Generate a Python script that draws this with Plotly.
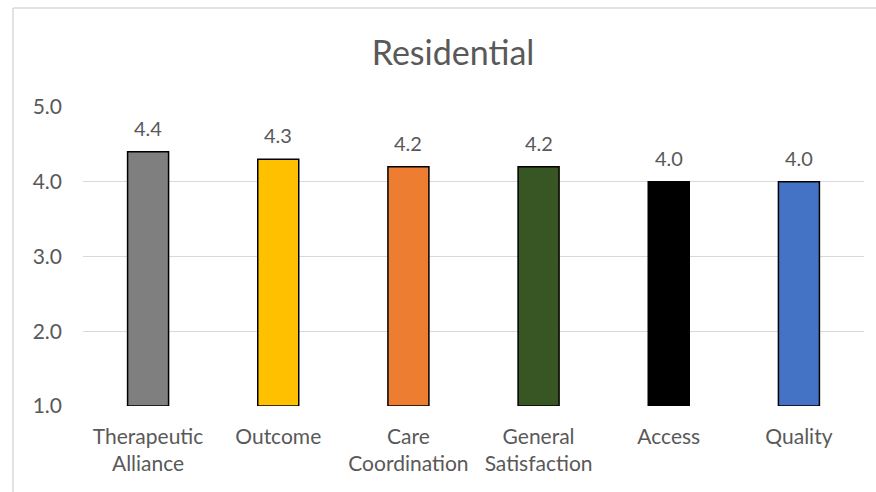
import plotly.graph_objects as go

categories = ["Therapeutic<br>Alliance", "Outcome", "Care<br>Coordination",
              "General<br>Satisfaction", "Access", "Quality"]
values = [4.4, 4.3, 4.2, 4.2, 4.0, 4.0]
bar_colors = ["#7f7f7f", "#ffc000", "#ed7d31", "#375623", "#000000", "#4472c4"]
y_ticks = [1.0, 2.0, 3.0, 4.0, 5.0]
y_tick_labels = ["1.0", "2.0", "3.0", "4.0", "5.0"]

W, H = 876, 492
L, R, T, B = 83, 12, 107, 86
FONT = "Lato"
TXT = "#595959"
BASE = 1.0

fig = go.Figure()
fig.add_trace(go.Bar(
    x=categories, y=[v - BASE for v in values],
    base=BASE,
    marker=dict(color=bar_colors, line=dict(color="#000000", width=1.5)),
    width=0.315,
    hoverinfo="skip",
))

for c, v in zip(categories, values):
    fig.add_annotation(x=c, y=v, text=f"{v:.1f}", showarrow=False,
                       yanchor="bottom", yshift=10,
                       font=dict(family=FONT, size=20, color=TXT))

pw = W - L - R
ph = H - T - B
fx = lambda px: (px - L) / pw
fy = lambda py: (H - B - py) / ph
# chart-area frame: only its left and top edges fall inside the picture
fig.add_shape(type="line", xref="paper", yref="paper",
              x0=fx(13), x1=fx(13), y0=fy(8), y1=fy(H + 5),
              line=dict(color="#d9d9d9", width=1.5), layer="below")
fig.add_shape(type="line", xref="paper", yref="paper",
              x0=fx(13), x1=fx(W + 5), y0=fy(8), y1=fy(8),
              line=dict(color="#d9d9d9", width=1.5), layer="below")

fig.update_layout(
    width=W, height=H,
    margin=dict(l=L, r=R, t=T, b=B, pad=0),
    paper_bgcolor="white", plot_bgcolor="white",
    showlegend=False,
    title=dict(text="Residential", x=453 / W, xanchor="center",
               y=1 - 53 / H, yanchor="middle",
               font=dict(family=FONT, size=34, color=TXT)),
    font=dict(family=FONT, size=20, color=TXT),
    xaxis=dict(showgrid=False, showline=False, ticks="", zeroline=False,
               ticklabelstandoff=16,
               tickfont=dict(family=FONT, size=21, color=TXT)),
    yaxis=dict(range=[1, 5], tickvals=y_ticks, ticktext=y_tick_labels,
               showgrid=True, gridcolor="#d9d9d9", gridwidth=1,
               zeroline=False, showline=False, ticks="",
               ticklabelstandoff=20,
               tickfont=dict(family=FONT, size=21, color=TXT)),
)
fig.write_html("out.html", config={"displayModeBar": False, "staticPlot": True})

with open("out.html", "r", encoding="utf-8") as f:
    html = f.read()
html = html.replace("<head>", "<head><style>html,body{margin:0;padding:0;overflow:hidden}</style>", 1)
with open("out.html", "w", encoding="utf-8") as f:
    f.write(html)
